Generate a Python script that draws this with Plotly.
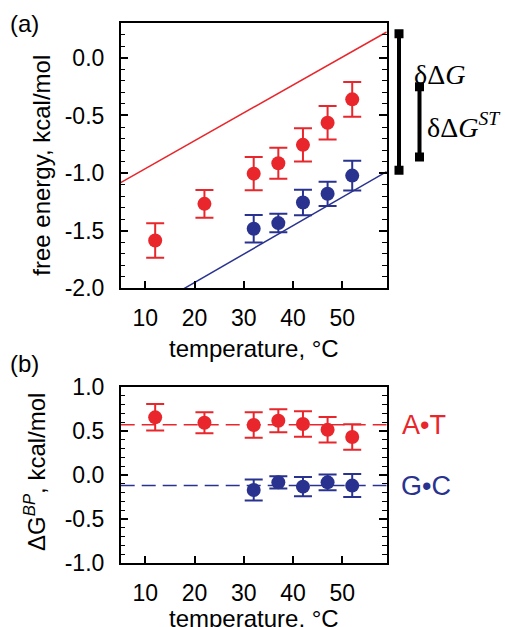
import plotly.graph_objects as go

# ---------------- data ----------------
temp_red = [12, 22, 32, 37, 42, 47, 52]
temp_blue = [32, 37, 42, 47, 52]

# panel (a): free energy, kcal/mol
fe_red = [-1.585, -1.267, -1.005, -0.915, -0.755, -0.563, -0.36]
fe_red_err = [0.15, 0.12, 0.145, 0.135, 0.145, 0.145, 0.15]
fe_blue = [-1.483, -1.434, -1.255, -1.18, -1.022]
fe_blue_err = [0.12, 0.08, 0.11, 0.105, 0.13]

# linear lines in panel (a)
fit_x = [5, 59]
fit_red_y = [-1.082, 0.225]
fit_blue_y = [-2.32, -0.987]

# side bars (kcal/mol)
ddg_bar = [0.21, -0.975]
ddgst_bar = [-0.25, -0.86]

# panel (b): dG^BP
bp_red = [0.653, 0.592, 0.566, 0.615, 0.577, 0.513, 0.43]
bp_red_err = [0.15, 0.12, 0.145, 0.13, 0.145, 0.145, 0.145]
bp_blue = [-0.17, -0.083, -0.132, -0.083, -0.12]
bp_blue_err = [0.12, 0.07, 0.11, 0.09, 0.13]
bp_red_mean = 0.57
bp_blue_mean = -0.12

x_ticks = [10, 20, 30, 40, 50]
ya_ticks = [-2.0, -1.5, -1.0, -0.5, 0.0]
yb_ticks = [-1.0, -0.5, 0.0, 0.5, 1.0]

RED = "#e8262b"
BLUE = "#29338f"
FONT = "Liberation Sans"
W, H = 505, 627


def px(x):
    return x / W


def py(y):
    return 1 - y / H


fig = go.Figure()

# panel (a)
fig.add_trace(go.Scatter(x=fit_x, y=fit_red_y, mode="lines",
                         line=dict(color=RED, width=1.5), xaxis="x", yaxis="y"))
fig.add_trace(go.Scatter(x=fit_x, y=fit_blue_y, mode="lines",
                         line=dict(color=BLUE, width=1.5), xaxis="x", yaxis="y"))
for xs, ys, es, c in [(temp_red, fe_red, fe_red_err, RED),
                      (temp_blue, fe_blue, fe_blue_err, BLUE)]:
    fig.add_trace(go.Scatter(x=xs, y=ys, mode="markers",
                             marker=dict(color=c, size=14),
                             error_y=dict(type="data", array=es, color=c,
                                          thickness=2, width=9),
                             xaxis="x", yaxis="y", cliponaxis=False))

# panel (b)
fig.add_trace(go.Scatter(x=fit_x, y=[bp_red_mean] * 2, mode="lines",
                         line=dict(color=RED, width=1.5, dash="14px,7px"),
                         xaxis="x2", yaxis="y2"))
fig.add_trace(go.Scatter(x=fit_x, y=[bp_blue_mean] * 2, mode="lines",
                         line=dict(color=BLUE, width=1.5, dash="14px,7px"),
                         xaxis="x2", yaxis="y2"))
for xs, ys, es, c in [(temp_red, bp_red, bp_red_err, RED),
                      (temp_blue, bp_blue, bp_blue_err, BLUE)]:
    fig.add_trace(go.Scatter(x=xs, y=ys, mode="markers",
                             marker=dict(color=c, size=14),
                             error_y=dict(type="data", array=es, color=c,
                                          thickness=2, width=9),
                             xaxis="x2", yaxis="y2", cliponaxis=False))

xdom = [px(120.7), px(386.7)]
common_x = dict(range=[5, 59], tickvals=x_ticks, ticks="inside", ticklen=8,
                tickwidth=1.5, tickcolor="black", showline=True, linecolor="black",
                linewidth=1.5, mirror=True, showgrid=False, zeroline=False,
                tickfont=dict(family=FONT, size=23, color="black"),
                ticklabelstandoff=8, domain=xdom, automargin=False)
common_y = dict(ticks="inside", ticklen=8, tickwidth=1.5, tickcolor="black",
                showline=True, linecolor="black", linewidth=1.5, mirror="ticks",
                showgrid=False, zeroline=False, automargin=False,
                tickfont=dict(family=FONT, size=23, color="black"),
                ticklabelstandoff=10,
                minor=dict(dtick=0.1, ticks="inside", ticklen=5, tickwidth=1.2,
                           tickcolor="black", showgrid=False))

fig.update_layout(
    template="none",
    width=W, height=H, margin=dict(l=0, r=0, t=0, b=0, pad=0, autoexpand=False),
    paper_bgcolor="white", plot_bgcolor="white", showlegend=False,
    xaxis=dict(**common_x, anchor="y"),
    yaxis=dict(**common_y, range=[-2.0, 0.3], tickvals=ya_ticks,
               ticktext=["-2.0", "-1.5", "-1.0", "-0.5", "0.0"],
               domain=[py(288.3), py(23.3)], anchor="x"),
    xaxis2=dict(**common_x, anchor="y2"),
    yaxis2=dict(**common_y, range=[-1.0, 1.0], tickvals=yb_ticks,
                ticktext=["-1.0", "-0.5", "0.0", "0.5", "1.0"],
                domain=[py(563.3), py(386.7)], anchor="x2"),
)

ann = []
tf = dict(family=FONT, size=24, color="black")
ann.append(dict(x=px(253.7), y=py(358), xref="paper", yref="paper", text="temperature, °C",
                showarrow=False, xanchor="center", yanchor="bottom", font=tf, yshift=-6))
ann.append(dict(x=px(253.7), y=py(627), xref="paper", yref="paper", text="temperature, °C",
                showarrow=False, xanchor="center", yanchor="bottom", font=tf, yshift=-7))
ann.append(dict(x=px(42), y=py(165.7), xref="paper", yref="paper",
                text="free energy, kcal/mol", textangle=-90, showarrow=False,
                xanchor="center", yanchor="middle", font=tf))
ann.append(dict(x=px(35), y=py(472), xref="paper", yref="paper",
                text="ΔG<sup><i>BP</i></sup>, kcal/mol", textangle=-90, showarrow=False,
                xanchor="center", yanchor="middle", font=tf))
ann.append(dict(x=px(8), y=py(23), xref="paper", yref="paper", text="(a)",
                showarrow=False, xanchor="left", yanchor="middle", font=tf))
ann.append(dict(x=px(8), y=py(363), xref="paper", yref="paper", text="(b)",
                showarrow=False, xanchor="left", yanchor="middle", font=tf))
sf = dict(family="Liberation Serif", size=28, color="black")
ann.append(dict(x=px(412), y=py(75), xref="paper", yref="paper", text="δΔ<i>G</i>",
                showarrow=False, xanchor="left", yanchor="middle", font=sf))
ann.append(dict(x=px(425), y=py(126), xref="paper", yref="paper",
                text="δΔ<i>G</i><sup><i>ST</i></sup>",
                showarrow=False, xanchor="left", yanchor="middle", font=sf))
lf = dict(family=FONT, size=27)
ann.append(dict(x=px(400), y=bp_red_mean, xref="paper", yref="y2", text="A•T",
                showarrow=False, xanchor="left", yanchor="middle",
                font=dict(**lf, color=RED)))
ann.append(dict(x=px(399), y=bp_blue_mean, xref="paper", yref="y2", text="G•C",
                showarrow=False, xanchor="left", yanchor="middle",
                font=dict(**lf, color=BLUE)))
fig.update_layout(annotations=ann)

shapes = []
for xp, bar in [(399, ddg_bar), (419.5, ddgst_bar)]:
    shapes.append(dict(type="line", xref="paper", yref="y", x0=px(xp), x1=px(xp),
                       y0=bar[0], y1=bar[1], line=dict(color="black", width=4)))
    for yv in bar:
        shapes.append(dict(type="rect", xref="paper", yref="y",
                           xsizemode="pixel", ysizemode="pixel",
                           xanchor=px(xp), yanchor=yv, x0=-4.5, x1=4.5, y0=-4.5, y1=4.5,
                           fillcolor="black", line=dict(width=0)))
fig.update_layout(shapes=shapes)

fig.write_html("out.html", config={"displayModeBar": False},
               post_script="document.body.style.margin='0';"
                           "document.body.style.padding='0';"
                           "document.body.style.overflow='hidden';")
